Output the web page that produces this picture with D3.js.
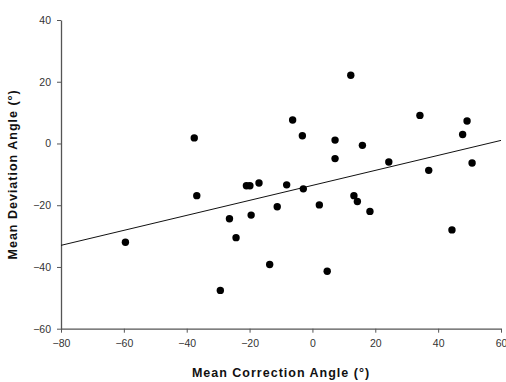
<!DOCTYPE html>
<html><head><meta charset="utf-8">
<script src="https://cdn.jsdelivr.net/npm/d3@7"></script>
<style>body{margin:0;background:#fff;} svg{display:block;}</style>
</head><body>
<script>
const correctionAngle = [-59.5,-37.6,-36.8,-29.3,-26.4,-24.3,-21.0,-19.9,-19.5,-17.0,-13.6,-11.2,-8.2,-6.3,-3.2,-2.9,2.2,4.7,7.2,7.2,12.2,13.2,14.3,15.9,18.3,24.3,34.2,37.0,44.4,47.8,49.2,50.8];
const deviationAngle  = [-32.0,1.8,-16.9,-47.6,-24.4,-30.5,-13.7,-13.7,-23.2,-12.8,-39.2,-20.5,-13.4,7.6,2.5,-14.7,-19.9,-41.4,1.1,-4.9,22.1,-16.9,-18.8,-0.6,-22.0,-6.0,9.1,-8.7,-28.0,2.9,7.3,-6.3];
const fitX = [-80, 60];
const fitY = [-33.0, 1.0];
const xTicks = [-80,-60,-40,-20,0,20,40,60];
const yTicks = [-60,-40,-20,0,20,40];
const xTitle = "Mean Correction Angle (°)";
const yTitle = "Mean Deviation Angle (°)";

const W = 506, H = 382;
const m = {left:61, right:5, top:20, bottom:53.3};
const svg = d3.select("body").append("svg").attr("width",W).attr("height",H);
const x = d3.scaleLinear().domain([-80,60]).range([m.left, W-m.right]);
const y = d3.scaleLinear().domain([-60,40]).range([H-m.bottom, m.top]);

const axisColor = "#555";
const gx = svg.append("g").attr("transform",`translate(0,${y(-60)})`)
  .call(d3.axisBottom(x).tickValues(xTicks).tickSize(4).tickPadding(7).tickSizeOuter(0));
const gy = svg.append("g").attr("transform",`translate(${x(-80)},0)`)
  .call(d3.axisLeft(y).tickValues(yTicks).tickSize(4).tickPadding(6).tickSizeOuter(0));
[gx,gy].forEach(g=>{
  g.select(".domain").attr("stroke",axisColor).attr("stroke-width",1.3);
  g.selectAll(".tick line").attr("stroke",axisColor).attr("stroke-width",1);
  g.selectAll(".tick text").attr("fill","#333").style("font-family","Liberation Sans, Arial, sans-serif").style("font-size","10.5px");
});

svg.append("line")
  .attr("x1",x(fitX[0])).attr("y1",y(fitY[0]))
  .attr("x2",x(fitX[1])).attr("y2",y(fitY[1]))
  .attr("stroke","#111").attr("stroke-width",1);

svg.append("g").selectAll("circle").data(correctionAngle.map((d,i)=>[d,deviationAngle[i]]))
  .join("circle").attr("cx",d=>x(d[0])).attr("cy",d=>y(d[1])).attr("r",3.7).attr("fill","#000");

svg.append("text").attr("x",(x(-80)+x(60))/2).attr("y",377)
  .attr("text-anchor","middle").style("font-family","Liberation Sans, Arial, sans-serif")
  .style("font-size","12.5px").style("font-weight","bold").style("letter-spacing","1px").attr("fill","#111")
  .text(xTitle);
svg.append("text").attr("transform",`translate(17,${(y(-60)+y(40))/2}) rotate(-90)`)
  .attr("text-anchor","middle").style("font-family","Liberation Sans, Arial, sans-serif")
  .style("font-size","12.5px").style("font-weight","bold").style("letter-spacing","1px").attr("fill","#111")
  .text(yTitle);
</script>
</body></html>
